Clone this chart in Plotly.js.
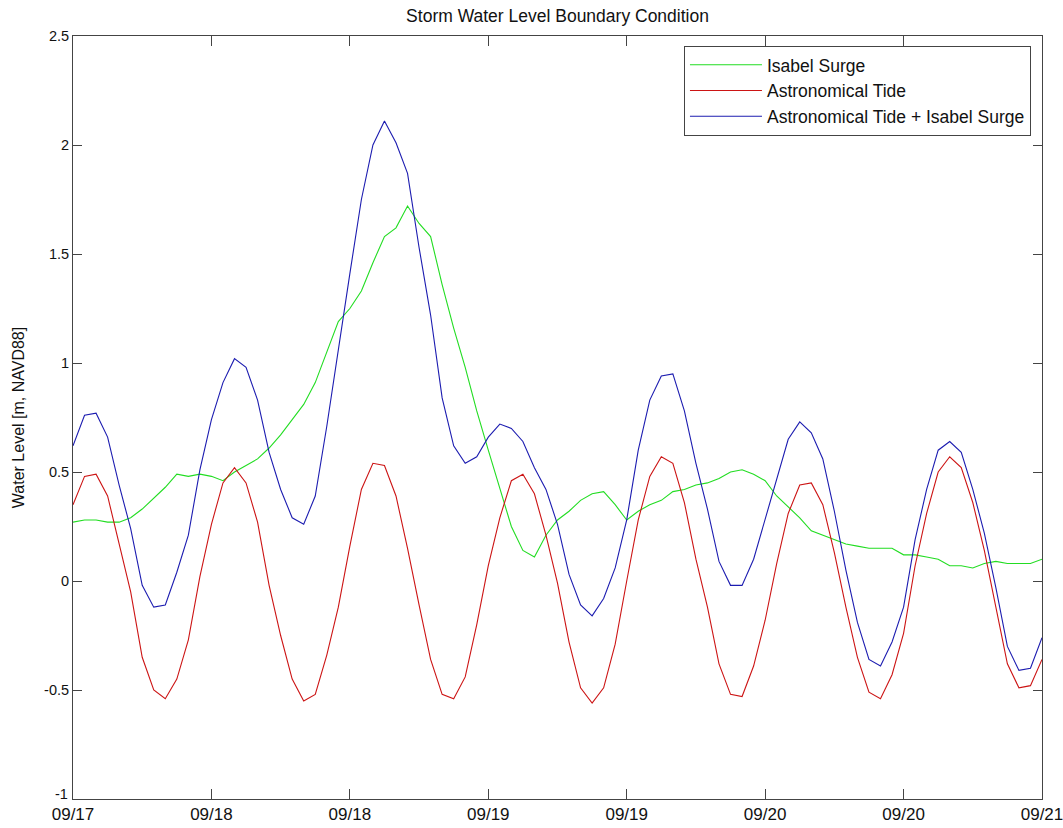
<!DOCTYPE html>
<html>
<head>
<meta charset="utf-8">
<script src="https://cdn.plot.ly/plotly-3.0.1.min.js"></script>
<style>html,body{margin:0;padding:0;background:#fff;}#chart{width:1063px;height:828px;}</style>
</head>
<body>
<div id="chart"></div>
<script>
// hours since start (hourly samples)
const hours = [0,1,2,3,4,5,6,7,8,9,10,11,12,13,14,15,16,17,18,19,20,21,22,23,24,25,26,27,28,29,30,31,32,33,34,35,36,37,38,39,40,41,42,43,44,45,46,47,48,49,50,51,52,53,54,55,56,57,58,59,60,61,62,63,64,65,66,67,68,69,70,71,72,73,74,75,76,77,78,79,80,81,82,83,84];

const isabelSurge = [0.27,0.28,0.28,0.27,0.27,0.29,0.33,0.38,0.43,0.49,0.48,0.49,0.48,0.46,0.50,0.53,0.56,0.61,0.67,0.74,0.81,0.91,1.05,1.19,1.25,1.33,1.46,1.58,1.62,1.72,1.64,1.58,1.36,1.16,0.98,0.78,0.60,0.43,0.25,0.14,0.11,0.21,0.28,0.32,0.37,0.40,0.41,0.35,0.28,0.32,0.35,0.37,0.41,0.42,0.44,0.45,0.47,0.50,0.51,0.49,0.46,0.39,0.34,0.29,0.23,0.21,0.19,0.17,0.16,0.15,0.15,0.15,0.12,0.12,0.11,0.10,0.07,0.07,0.06,0.08,0.09,0.08,0.08,0.08,0.10];

const astroTide = [0.35,0.48,0.49,0.39,0.17,-0.05,-0.35,-0.50,-0.54,-0.45,-0.27,0.02,0.26,0.45,0.52,0.45,0.27,-0.02,-0.25,-0.45,-0.55,-0.52,-0.34,-0.12,0.16,0.42,0.54,0.53,0.39,0.15,-0.11,-0.36,-0.52,-0.54,-0.44,-0.20,0.07,0.29,0.46,0.49,0.40,0.21,-0.01,-0.28,-0.49,-0.56,-0.49,-0.29,0.00,0.28,0.48,0.57,0.54,0.36,0.10,-0.12,-0.38,-0.52,-0.53,-0.39,-0.18,0.08,0.31,0.44,0.45,0.35,0.13,-0.12,-0.35,-0.51,-0.54,-0.43,-0.24,0.07,0.31,0.50,0.57,0.52,0.36,0.14,-0.12,-0.38,-0.49,-0.48,-0.36];

const tidePlusSurge = [0.62,0.76,0.77,0.66,0.44,0.24,-0.02,-0.12,-0.11,0.04,0.21,0.51,0.74,0.91,1.02,0.98,0.83,0.59,0.42,0.29,0.26,0.39,0.71,1.07,1.41,1.75,2.00,2.11,2.01,1.87,1.53,1.22,0.84,0.62,0.54,0.57,0.66,0.72,0.70,0.64,0.52,0.42,0.26,0.03,-0.11,-0.16,-0.08,0.06,0.28,0.60,0.83,0.94,0.95,0.78,0.54,0.33,0.09,-0.02,-0.02,0.10,0.28,0.47,0.65,0.73,0.68,0.56,0.32,0.05,-0.19,-0.36,-0.39,-0.28,-0.12,0.19,0.42,0.60,0.64,0.59,0.42,0.22,-0.03,-0.30,-0.41,-0.40,-0.26];

const xTickVals = [0,12,24,36,48,60,72,84];
const xTickText = ["09/17","09/18","09/18","09/19","09/19","09/20","09/20","09/21"];
const yTickVals = [-1,-0.5,0,0.5,1,1.5,2,2.5];
const yTickText = ["-1","-0.5","0","0.5","1","1.5","2","2.5"];

const FONT = "Liberation Sans, Arial, Helvetica, sans-serif";

const traces = [
  {x: hours, y: isabelSurge, mode: 'lines', name: 'Isabel Surge', line: {color: '#22dd22', width: 1.1}},
  {x: hours, y: astroTide, mode: 'lines', name: 'Astronomical Tide', line: {color: '#cc1414', width: 1.1}},
  {x: hours, y: tidePlusSurge, mode: 'lines', name: 'Astronomical Tide + Isabel Surge', line: {color: '#1c1cb0', width: 1.1}}
];

const axisCommon = {
  showgrid: false, zeroline: false, showline: true, linecolor: '#444', linewidth: 1,
  mirror: 'ticks', ticks: 'inside', tickcolor: '#444', tickwidth: 1, ticklabeloverflow: 'allow'
};

// the lowest y label sits a little above its tick so it clears the first date label
const yAxisText = yTickText.map((t, i) => i === 0 ? '' : t);

const layout = {
  width: 1063, height: 828,
  margin: {l: 73, r: 21, t: 36, b: 29, pad: 0},
  paper_bgcolor: '#fff', plot_bgcolor: '#fff',
  font: {family: FONT, size: 14, color: '#111'},
  title: {text: 'Storm Water Level Boundary Condition', x: 0.5245, xanchor: 'center', y: 0.981, yanchor: 'middle', font: {family: FONT, size: 17.5, color: '#111'}},
  xaxis: Object.assign({}, axisCommon, {range: [0, 84], tickmode: 'array', tickvals: xTickVals, ticktext: xTickText, ticklen: 10,
    tickfont: {family: FONT, size: 17, color: '#111'}}),
  yaxis: Object.assign({}, axisCommon, {range: [-1, 2.5], tickmode: 'array', tickvals: yTickVals, ticktext: yAxisText, ticklen: 9,
    tickfont: {family: FONT, size: 14.5, color: '#111'},
    title: {text: 'Water Level [m, NAVD88]', font: {family: FONT, size: 16, color: '#111'}, standoff: 15}}),
  annotations: [{
    xref: 'paper', yref: 'y', x: 0, y: yTickVals[0], text: yTickText[0], showarrow: false,
    xanchor: 'right', yanchor: 'middle', xshift: -3, yshift: 5,
    font: {family: FONT, size: 14.5, color: '#111'}
  }],
  showlegend: true,
  legend: {x: 0.9886, xanchor: 'right', y: 0.987, yanchor: 'top', bgcolor: '#fff', bordercolor: '#444', borderwidth: 1,
    font: {family: FONT, size: 17.5, color: '#111'}, itemwidth: 72, tracegroupgap: 0}
};

Plotly.newPlot('chart', traces, layout, {staticPlot: true, displayModeBar: false});
</script>
</body>
</html>
